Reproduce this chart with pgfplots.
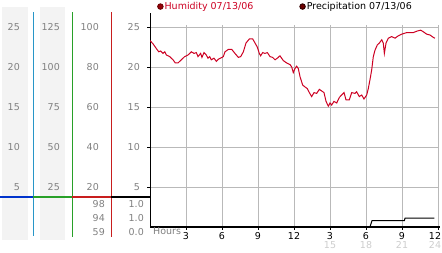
\documentclass[border=0pt]{standalone}
\usepackage{pgfplots}
\pgfplotsset{compat=1.18}
\usepackage{fontspec}
\setmainfont{DejaVu Sans}
\definecolor{hum}{RGB}{204,0,34}
\definecolor{gridc}{RGB}{185,185,185}
\definecolor{labc}{RGB}{128,128,128}
\definecolor{panel}{RGB}{243,243,243}
\definecolor{cblue}{RGB}{0,51,204}
\definecolor{cteal}{RGB}{40,150,200}
\definecolor{cgreen}{RGB}{40,160,40}
\definecolor{cred}{RGB}{200,30,30}
\definecolor{lightlab}{RGB}{205,205,205}
\definecolor{dot}{RGB}{150,0,10}
\definecolor{dotb}{RGB}{110,0,0}
\newcommand{\fnt}{\fontsize{9.5}{9}\selectfont}
\begin{document}
\begin{tikzpicture}[font=\fnt]
\useasboundingbox (0,0) rectangle (442pt,253pt);
% left scale panels
\fill[panel] (2pt,13pt) rectangle (28pt,246pt);
\fill[panel] (40pt,13pt) rectangle (65pt,246pt);
\draw[cteal,line width=1pt] (33.3pt,17pt) -- (33.3pt,241pt);
\draw[cgreen,line width=1pt] (72.3pt,16pt) -- (72.3pt,241pt);
\draw[cred,line width=1pt] (111.3pt,16pt) -- (111.3pt,241pt);
\draw[cblue,line width=2pt] (0pt,56pt) -- (33.3pt,56pt);
\draw[cgreen,line width=2pt] (33.3pt,56pt) -- (72.3pt,56pt);
\draw[cred,line width=2pt] (72.3pt,56pt) -- (111.3pt,56pt);
\draw[black,line width=2pt] (111.3pt,56pt) -- (150pt,56pt);
\foreach \a/\b/\c/\yy in {25/125/100/226,20/100/80/186,15/75/60/146,10/50/40/106,5/25/20/66}{
  \node[labc,anchor=east,inner sep=0pt] at (20pt,\yy pt) {\a};
  \node[labc,anchor=east,inner sep=0pt] at (60pt,\yy pt) {\b};
  \node[labc,anchor=east,inner sep=0pt] at (99pt,\yy pt) {\c};
}
\foreach \a/\b/\yy in {98/1.0/49,94/1.0/35,59/0.0/21}{
  \node[labc,anchor=east,inner sep=0pt] at (105pt,\yy pt) {\a};
  \node[labc,anchor=east,inner sep=0pt] at (144pt,\yy pt) {\b};
}
\begin{axis}[
  at={(150pt,26pt)}, anchor=south west,
  x=12pt, y=8pt, xmin=0, xmax=24, ymin=0, ymax=25.25,
  axis x line=bottom, axis y line=left,
  x axis line style={-, line width=2pt, shorten >=-2pt},
  y axis line style={-, line width=1pt, shorten >=-11.5pt},
  xtick={3,6,...,24}, ytick={5,10,...,25},
  grid=major, grid style={gridc, line width=0.8pt},
  tick align=outside, major tick length=3pt,
  tick style={black, line width=0.8pt},
  xticklabels={3,6,9,12,{3\\\textcolor{lightlab}{15}},{6\\\textcolor{lightlab}{18}},{9\\\textcolor{lightlab}{21}},{\hspace*{-6pt}12\\\hspace*{-6pt}\textcolor{lightlab}{24}}},
  xticklabel style={align=center, font=\fnt, text=black, inner sep=0pt, yshift=-2.5pt},
  yticklabels={5,10,15,20,25},
  yticklabel style={font=\fnt, text=labc, anchor=east, inner sep=0pt, xshift=-7pt},
  legend columns=2,
  legend style={draw=none, fill=none, at={(axis description cs:0,1)}, anchor=north west, yshift=24pt, xshift=7pt, inner sep=0pt, font=\fnt, nodes={inner sep=1pt},
    /tikz/every even column/.append style={column sep=45pt}},
]
\addplot[hum, line width=1pt, legend image code/.code={\fill[dot,draw=dotb] (3pt,0pt) circle (2.7pt);}] coordinates {
(0,23.3)(0.25,22.9)(0.53,22.3)(0.73,21.9)(0.89,22.0)(1.08,21.7)(1.23,21.9)(1.36,21.5)
(1.64,21.3)(1.92,20.9)(2.11,20.5)(2.33,20.5)(2.61,20.9)(2.89,21.3)(3.17,21.5)(3.44,21.9)
(3.67,21.7)(3.86,21.8)(4.0,21.3)(4.22,21.7)(4.33,21.2)(4.5,21.8)(4.69,21.5)(4.83,21.1)
(4.97,21.3)(5.11,20.9)(5.33,21.1)(5.53,20.7)(5.72,21.0)(6.0,21.2)(6.11,21.3)(6.25,21.9)
(6.53,22.2)(6.81,22.2)(7.08,21.7)(7.36,21.2)(7.56,21.3)(7.78,21.9)(8.0,23.0)(8.28,23.5)
(8.56,23.5)(8.75,23.0)(8.94,22.5)(9.11,21.7)(9.22,21.4)(9.39,21.8)(9.58,21.7)(9.78,21.8)
(10.0,21.3)(10.22,21.2)(10.42,20.9)(10.61,21.1)(10.83,21.4)(11.11,20.8)(11.39,20.5)
(11.67,20.3)(11.81,20.0)(11.94,19.3)(12.08,19.8)(12.22,20.1)(12.36,19.8)(12.5,18.8)
(12.72,17.75)(12.92,17.5)(13.11,17.3)(13.28,16.8)(13.47,16.3)(13.67,16.8)(13.89,16.7)
(14.11,17.2)(14.31,17.0)(14.5,16.8)(14.67,15.7)(14.86,15.1)(15.0,15.5)(15.14,15.25)
(15.33,15.7)(15.56,15.5)(15.78,16.2)(15.97,16.5)(16.17,16.8)(16.33,15.9)(16.61,15.9)
(16.81,16.8)(17.08,16.7)(17.22,16.9)(17.44,16.3)(17.64,16.5)(17.83,16.0)(18.06,16.5)
(18.19,17.3)(18.33,18.4)(18.47,19.6)(18.61,21.3)(18.75,22.1)(18.94,22.75)(19.11,23.0)
(19.31,23.4)(19.44,23.0)(19.53,21.7)(19.67,23.0)(19.86,23.6)(20.14,23.8)(20.42,23.6)
(20.69,23.9)(20.97,24.1)(21.39,24.3)(21.94,24.3)(22.28,24.5)(22.56,24.6)(22.78,24.4)
(23.06,24.1)(23.33,24.0)(23.61,23.7)(23.75,23.6)
};
\addlegendentry{\textcolor{hum}{Humidity 07/13/06}}
\addplot[black, line width=1pt, legend image code/.code={\fill[dotb,draw=black!80!red] (3pt,0pt) circle (2.7pt);}] coordinates {
(0,0)(18.33,0)(18.5,0.8)(21.2,0.8)(21.25,1.1)(23.7,1.1)
};
\addlegendentry{Precipitation 07/13/06}
\end{axis}
\node[labc,anchor=west,inner sep=0pt] at (153pt,21.5pt) {Hours};
\end{tikzpicture}
\end{document}
